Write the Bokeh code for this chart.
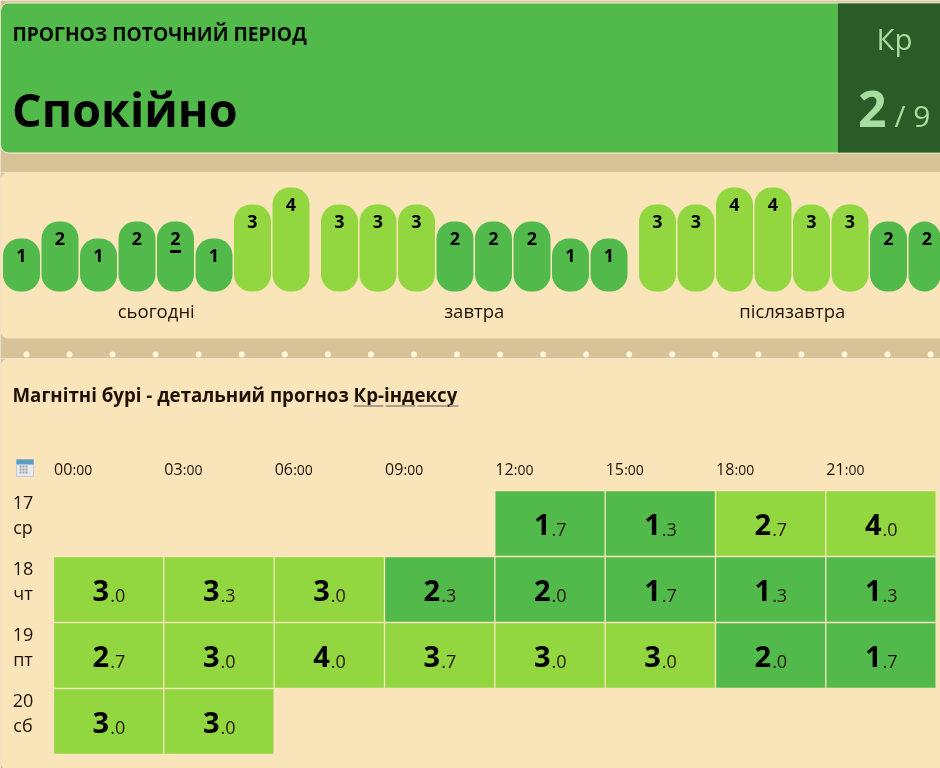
from bokeh.plotting import figure
from bokeh.models import Range1d, ColumnDataSource
from bokeh.layouts import column
from bokeh.core.properties import value
from bokeh.embed import file_html
from bokeh.resources import INLINE
import numpy as np

# ---- data ----
banner_label = "ПРОГНОЗ ПОТОЧНИЙ ПЕРІОД"
banner_state = "Спокійно"
kp_now = "2"
kp_max = "/ 9"
day_names = ["сьогодні", "завтра", "післязавтра"]
kp_today = [1, 2, 1, 2, 2, 1, 3, 4]
kp_tomorrow = [3, 3, 3, 2, 2, 2, 1, 1]
kp_after = [3, 3, 4, 4, 3, 3, 2, 2]
current_slot = 4
detail_title = "Магнітні бурі - детальний прогноз "
detail_link = "Кр-індексу"
hours = ["00", "03", "06", "09", "12", "15", "18", "21"]
minutes = ":00"
row_days = ["17", "18", "19", "20"]
row_weekdays = ["ср", "чт", "пт", "сб"]
kp_17 = [None, None, None, None, 1.7, 1.3, 2.7, 4.0]
kp_18 = [3.0, 3.3, 3.0, 2.3, 2.0, 1.7, 1.3, 1.3]
kp_19 = [2.7, 3.0, 4.0, 3.7, 3.0, 3.0, 2.0, 1.7]
kp_20 = [3.0, 3.0, None, None, None, None, None, None]

# ---- style ----
TAN = "#d8c297"
PANEL = "#fae5bb"
GREEN = "#52b94b"
LIME = "#92d640"
DARK = "#2b5c27"
PALE = "#a8dda0"
INK = "#1e1206"
BROWN = "#2a1805"
FONT = value("Open Sans")


def colour(v):
    return LIME if v >= 2.5 else GREEN


def make(h, xr, yr):
    p = figure(width=940, height=h, x_range=xr, y_range=yr, toolbar_location=None,
               output_backend="svg", min_border=0, background_fill_color=TAN,
               border_fill_color=TAN, outline_line_color=None,
               x_axis_location=None, y_axis_location=None)
    p.grid.visible = False
    return p


def txt(p, x, y, s, size, color=INK, style="normal", align="left", base="middle", **kw):
    p.text(x=[x], y=[y], text=[s], text_font=FONT, text_font_size=f"{size}px",
           text_font_style=style, text_color=color, text_align=align,
           text_baseline=base, **kw)


# ---- banner ----
top = make(172, Range1d(0, 940), Range1d(172, 0))
top.quad(left=[0], right=[960], top=[2.5], bottom=[152.5], fill_color=GREEN,
         line_color="#f6f2d8", line_width=1, border_radius=8)
top.quad(left=[837.5], right=[960], top=[3], bottom=[152], fill_color=DARK, line_color=None)
txt(top, 12, 33, banner_label, 19.2, "#0a0a04", "bold")
txt(top, 11.5, 108, banner_state, 46.7, "#000000", "bold")
txt(top, 894, 38, "Кр", 29.5, PALE, align="center")
txt(top, 886, 108, kp_now, 50, PALE, "bold", align="right", base="alphabetic")
txt(top, 894, 115, kp_max, 30, PALE, base="alphabetic")

# ---- 3-hourly bars ----
SLOT = 38.5
GAP = 10 / SLOT
x0 = -21 / SLOT
y_low, y_high = -6.06, 4.88
strip = make(186, Range1d(x0, x0 + 940 / SLOT), Range1d(y_low, y_high))
strip.extra_x_ranges = {"px": Range1d(0, 940)}
strip.extra_y_ranges = {"py": Range1d(186, 0)}
strip.quad(left=[0], right=[960], top=[0], bottom=[166], fill_color=PANEL, line_color=None,
           border_radius=8, x_range_name="px", y_range_name="py")
dot_x = np.arange(26, 940, 43.05)
strip.scatter(x=dot_x, y=[182] * len(dot_x), marker="circle", size=6,
              fill_color="#fdf6d8", line_color=None, x_range_name="px", y_range_name="py")

days = [kp_today, kp_tomorrow, kp_after]
xs, vals, cols = [], [], []
for d, series in enumerate(days):
    for i, v in enumerate(series):
        xs.append(d * 8 + i + d * GAP)
        vals.append(v)
        cols.append(colour(v))
base = -36 / 17
src = ColumnDataSource(dict(x=xs, top=vals, c=cols, t=[str(v) for v in vals]))
strip.vbar(x="x", top="top", bottom=base, width=37 / SLOT, fill_color="c", line_color=None,
           border_radius=17, source=src)
strip.text(x="x", y="top", text="t", source=src, text_font=FONT, text_font_size="18px",
           text_font_style="bold", text_color="#000000", text_align="center",
           text_baseline="middle", y_offset=17.5)
strip.rect(x=[current_slot], y=[kp_today[current_slot] - 30 / 17], width=[11 / SLOT],
           height=[3 / 17], fill_color="#000000", line_color=None)
for d, name in enumerate(day_names):
    txt(strip, d * 8 + 3.5 + d * GAP, base - 19 / 17, name, 18.5, INK, align="center")

# ---- detail table ----
CW = 110.33
RH = 66
x0t = -(53 + CW / 2) / CW
y0t = -(523 - 358) / RH
grid = make(410, Range1d(x0t, x0t + 940 / CW), Range1d(y0t + 410 / RH, y0t))
grid.extra_x_ranges = {"px": Range1d(0, 940)}
grid.extra_y_ranges = {"py": Range1d(410, 0)}
grid.quad(left=[0], right=[960], top=[0], bottom=[412], fill_color=PANEL, line_color=None,
          border_radius=8, x_range_name="px", y_range_name="py")

txt(grid, 12, 35.5, detail_title + detail_link, 18.7, INK, "bold",
    x_range_name="px", y_range_name="py")
grid.segment(x0=[353], x1=[458], y0=[47.5], y1=[47.5], line_color="#a8a294", line_width=2,
             line_dash="30 2", x_range_name="px", y_range_name="py")

# calendar icon
grid.quad(left=[16], right=[33], top=[101], bottom=[118], fill_color="#e6e9ee",
          line_color="#c4cad2", line_width=1, x_range_name="px", y_range_name="py")
grid.quad(left=[16], right=[33], top=[101], bottom=[106], fill_color="#5c9cc4",
          line_color=None, x_range_name="px", y_range_name="py")
ix = [20, 23, 26, 20, 23, 26, 20, 23, 26]
iy = [108, 108, 108, 111, 111, 111, 114, 114, 114]
grid.rect(x=ix, y=iy, width=2, height=2, fill_color="#9aa3ad", line_color=None,
          x_range_name="px", y_range_name="py")

# column heads
for i, h in enumerate(hours):
    xl = i - 0.5
    grid.text(x=[xl], y=[110.6], text=[h], text_font=FONT, text_font_size="16px",
              text_color=INK, text_align="left", text_baseline="alphabetic", x_offset=0.5,
              y_range_name="py")
    grid.text(x=[xl], y=[111.4], text=[minutes], text_font=FONT, text_font_size="14px",
              text_color=INK, text_align="left", text_baseline="alphabetic", x_offset=19,
              y_range_name="py")

# rows
rows = [kp_17, kp_18, kp_19, kp_20]
cx, cy, cv = [], [], []
for r, series in enumerate(rows):
    for c, v in enumerate(series):
        if v is not None:
            cx.append(c)
            cy.append(r)
            cv.append(v)
cells = ColumnDataSource(dict(
    x=cx, y=cy, c=[colour(v) for v in cv],
    big=[str(int(v)) for v in cv],
    small=["." + f"{v:.1f}".split(".")[1] for v in cv]))
grid.rect(x="x", y="y", width=109 / CW, height=64.5 / RH, fill_color="c", line_color=None,
          source=cells)
grid.text(x="x", y="y", text="big", source=cells, text_font=FONT, text_font_size="29px",
          text_font_style="bold", text_color="#000000", text_align="right",
          text_baseline="alphabetic", y_offset=1.4, x_offset=0.5)
grid.text(x="x", y="y", text="small", source=cells, text_font=FONT, text_font_size="18px",
          text_color=BROWN, text_align="left", text_baseline="alphabetic", y_offset=6, x_offset=1.5)

for r, (d, w) in enumerate(zip(row_days, row_weekdays)):
    grid.text(x=[22.5], y=[r], text=[d], text_font=FONT, text_font_size="18px", text_color=INK,
              text_align="center", text_baseline="middle", y_offset=-21, x_range_name="px")
    grid.text(x=[22.5], y=[r], text=[w], text_font=FONT, text_font_size="18px", text_color=INK,
              text_align="center", text_baseline="middle", y_offset=3, x_range_name="px")

page = column(top, strip, grid, spacing=0)
page.styles = {"position": "fixed", "left": "0px", "top": "0px"}
open("out.html", "w").write(file_html(page, INLINE))
